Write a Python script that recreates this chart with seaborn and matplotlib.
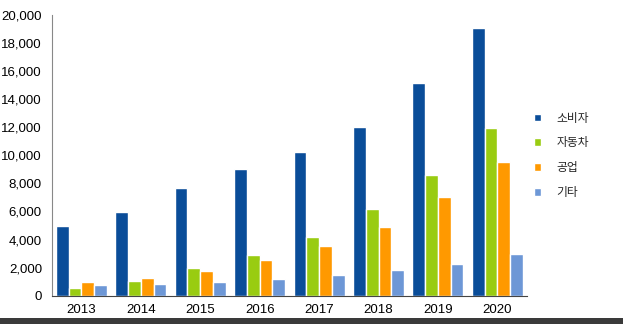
import matplotlib
matplotlib.use("Agg")
import matplotlib.pyplot as plt
import seaborn as sns
import pandas as pd
import numpy as np
from matplotlib.ticker import FixedLocator, FuncFormatter
from matplotlib.patches import Rectangle

years = ["2013", "2014", "2015", "2016", "2017", "2018", "2019", "2020"]
series_names = ["소비자", "자동차", "공업", "기타"]
consumer = [4950, 5950, 7650, 9050, 10200, 12000, 15150, 19050]
automotive = [580, 1050, 1950, 2900, 4200, 6150, 8600, 11950]
industrial = [950, 1250, 1750, 2550, 3550, 4900, 7000, 9500]
other = [750, 800, 950, 1200, 1470, 1850, 2280, 2980]
colors = ["#0A4D99", "#99CC11", "#FF9900", "#6D97D6"]

df = pd.DataFrame({
    "year": years * 4,
    "series": sum([[s] * len(years) for s in series_names], []),
    "value": consumer + automotive + industrial + other,
})

sns.set_style("white")
plt.rcParams["font.family"] = ["Liberation Sans", "Noto Sans CJK KR", "DejaVu Sans"]

fig = plt.figure(figsize=(6.23, 3.24), dpi=100)
ax = fig.add_axes([0.083, 0.0873, 0.763, 0.8673])

sns.barplot(data=df, x="year", y="value", hue="series", order=years,
            hue_order=series_names, palette=colors, width=0.86, gap=0,
            saturation=1, ax=ax, legend=True)

ax.set_xlim(-0.5, 7.5)
ax.set_ylim(0, 20000)
ax.set_yticks(np.arange(0, 20001, 2000))
ax.yaxis.set_major_formatter(FuncFormatter(lambda v, p: f"{int(v):,}"))
ax.set_xlabel("")
ax.set_ylabel("")

ax.xaxis.set_minor_locator(FixedLocator(np.arange(-0.5, 8.0, 1.0)))
ax.tick_params(axis="x", which="major", length=0, labelsize=9.5, pad=6, colors="black")
ax.tick_params(axis="x", which="minor", length=4, width=1, color="#444444", direction="out")
ax.tick_params(axis="y", which="major", length=4, width=1, color="#888888",
               direction="out", labelsize=9.5, pad=3, labelcolor="black")

for side in ["top", "right"]:
    ax.spines[side].set_visible(False)
ax.spines["left"].set_color("#888888")
ax.spines["bottom"].set_color("#444444")

handles, labels = ax.get_legend_handles_labels()
leg = ax.legend(handles, labels, loc="center left", bbox_to_anchor=(1.005, 0.5),
                frameon=False, prop={"family": ["Noto Sans CJK KR"], "size": 8.5},
                handlelength=0.6, handleheight=0.6, handletextpad=1.3,
                labelspacing=1.0, borderaxespad=0)

fig.patches.append(Rectangle((0, 0), 1, 6 / 324, transform=fig.transFigure,
                             facecolor="#3a3a3a", edgecolor="none", zorder=-1))

fig.savefig("out.png", dpi=100)
